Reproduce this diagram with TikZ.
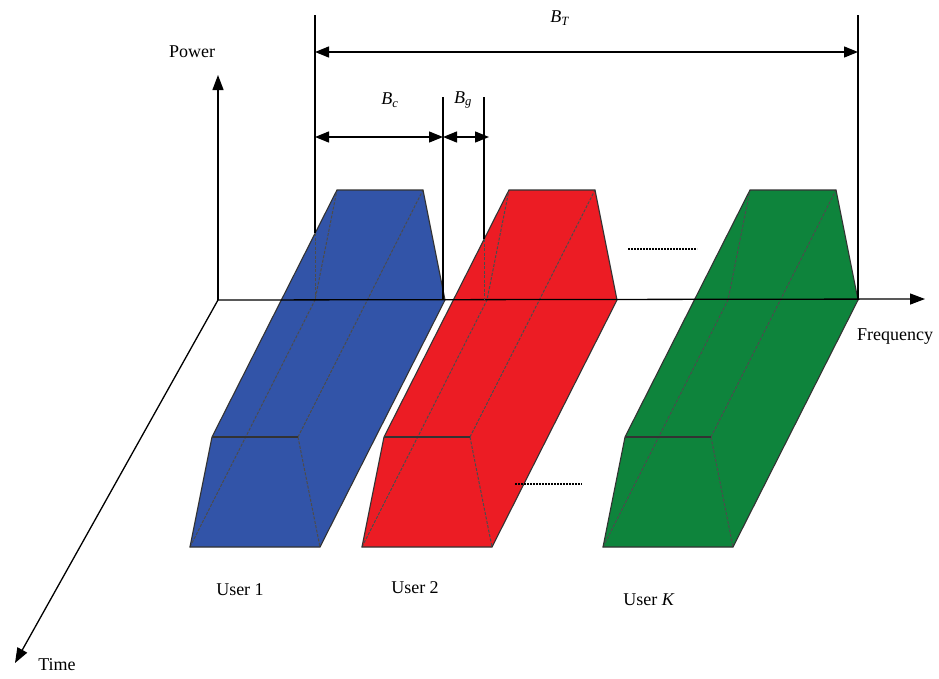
\documentclass[tikz,border=0pt]{standalone}
\usepackage{fontspec}
\setmainfont{Liberation Serif}
\usetikzlibrary{arrows.meta}
\definecolor{ublue}{RGB}{50,84,168}
\definecolor{ured}{RGB}{236,28,36}
\definecolor{ugreen}{RGB}{14,132,60}
\newcommand\fdmaBlock[2]{%
  \begin{scope}[shift={(#1,0)}]
    \fill[#2] (0,547) -- (22,437) -- (147,190) -- (233,190) -- (255,300) -- (130,547) -- cycle;
    \draw[hidden] (0,547) -- (125,300) -- (147,190);
    \draw[hidden] (108,437) -- (233,190);
    \draw[hidden] (108,437) -- (130,547);
    \draw[outline] (22,437) -- (108,437);
    \draw[outline] (0,547) -- (22,437) -- (147,190) -- (233,190) -- (255,300) -- (130,547) -- cycle;
  \end{scope}}
\begin{document}
\begin{tikzpicture}[x=1pt,y=-1pt,
  axis/.style={line width=1.3pt, -{Triangle[length=15pt,width=11pt]}},
  dimline/.style={line width=1.3pt, {Triangle[length=14pt,width=11pt]}-{Triangle[length=14pt,width=11pt]}},
  guide/.style={line width=1.1pt},
  hidden/.style={line width=1pt, draw=black!70, dash pattern=on 3pt off 1.5pt},
  outline/.style={line width=1.1pt, draw=black!80},
  lbl/.style={font=\fontsize{18}{20}\selectfont, inner sep=0pt},
  sep/.style={line width=1.2pt, dash pattern=on 2pt off 1pt}]
\useasboundingbox (0,0) rectangle (939,678);
\fill[white] (0,0) rectangle (939,678);
% coordinates
\coordinate (O) at (218,300);
\coordinate (P) at (218,75);
\coordinate (F) at (925,299);
\coordinate (T) at (15,663);
\coordinate (L1top) at (315,15);
\coordinate (L1in) at (315,233);
\coordinate (L1bot) at (315,300);
\coordinate (Rtop) at (858,15);
\coordinate (Rbot) at (858,299);
\coordinate (G1top) at (443,97);
\coordinate (G1bot) at (443,300);
\coordinate (G2top) at (484,97);
\coordinate (G2in) at (484,239);
\coordinate (G2bot) at (484,300);
\coordinate (BTl) at (315,52);
\coordinate (BTr) at (858,52);
\coordinate (Bcl) at (315,137);
\coordinate (Bcr) at (443,137);
\coordinate (Bgr) at (489,137);
\coordinate (S1a) at (628,249);
\coordinate (S1b) at (697,249);
\coordinate (S2a) at (515,484);
\coordinate (S2b) at (582,484);
% axes
\draw[axis] (O) -- (P);
\draw[axis] (O) -- (T);
% blocks
\fdmaBlock{190}{ublue}
\fdmaBlock{362}{ured}
\fdmaBlock{603}{ugreen}
% frequency axis
\draw[axis] (O) -- (F);
% guide lines
\draw[guide] (L1top) -- (L1in);
\draw[hidden] (L1in) -- (L1bot);
\draw[guide] (Rtop) -- (Rbot);
\draw[guide] (G1top) -- (G1bot);
\draw[guide] (G2top) -- (G2in);
\draw[hidden] (G2in) -- (G2bot);
% dimension arrows
\draw[dimline] (BTl) -- (BTr);
\draw[dimline] (Bcl) -- (Bcr);
\draw[dimline] (Bcr) -- (Bgr);
% separators
\draw[sep] (S1a) -- (S1b);
\draw[sep] (S2a) -- (S2b);
% labels
\node[lbl] (power) at (192,52) {Power};
\node[lbl] (bt) at (560,18) {\textit{B}\textsubscript{\textit{T}}};
\node[lbl] (bc) at (390,100) {\textit{B}\textsubscript{\textit{c}}};
\node[lbl] (bg) at (463,100) {\textit{B}\textsubscript{\textit{g}}};
\node[lbl] (freq) at (895,337) {Frequency};
\node[lbl] (time) at (57,665) {Time};
\node[lbl] (u1) at (240,590) {User 1};
\node[lbl] (u2) at (415,588) {User 2};
\node[lbl] (uk) at (649,600) {User \textit{K}};
\end{tikzpicture}
\end{document}
